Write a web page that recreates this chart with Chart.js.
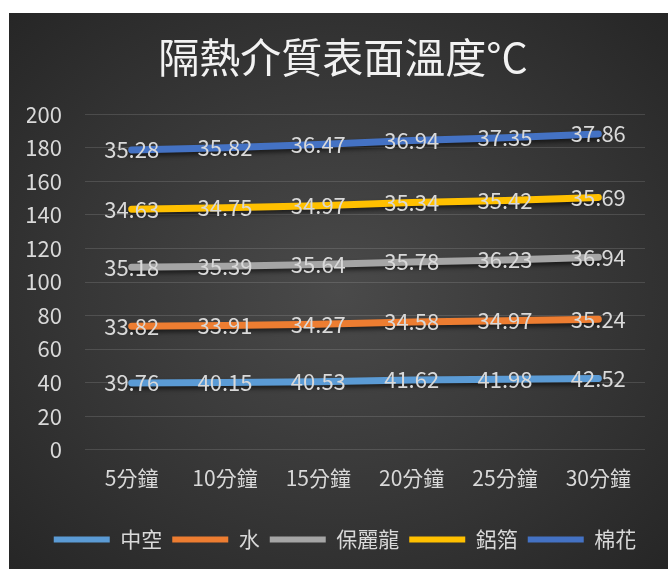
<!DOCTYPE html>
<html>
<head>
<meta charset="utf-8">
<script src="https://cdn.jsdelivr.net/npm/chart.js@4"></script>
<style>
  body { margin: 0; background: #fff; }
  #wrap {
    position: absolute; left: 9px; top: 13px; width: 659px; height: 556px;
    background: radial-gradient(ellipse at 50% 50%, #4a4a4a 0%, #3a3a3a 45%, #262626 100%);
  }
</style>
</head>
<body>
<div id="wrap"><canvas id="chart" width="659" height="556"></canvas></div>
<script>
var categories = ['5分鐘', '10分鐘', '15分鐘', '20分鐘', '25分鐘', '30分鐘'];
var seriesNames = ['中空', '水', '保麗龍', '鋁箔', '棉花'];
var hollow = [39.76, 40.15, 40.53, 41.62, 41.98, 42.52];
var water = [33.82, 33.91, 34.27, 34.58, 34.97, 35.24];
var styrofoam = [35.18, 35.39, 35.64, 35.78, 36.23, 36.94];
var foil = [34.63, 34.75, 34.97, 35.34, 35.42, 35.69];
var cotton = [35.28, 35.82, 36.47, 36.94, 37.35, 37.86];
var yTicks = [0, 20, 40, 60, 80, 100, 120, 140, 160, 180, 200];

var colors = ['#5B9BD5', '#ED7D31', '#A5A5A5', '#FFC000', '#4472C4'];
var allData = [hollow, water, styrofoam, foil, cotton];
var font = '"Noto Sans CJK TC", "Noto Sans", sans-serif';

var datasets = allData.map(function (d, i) {
    return {
        label: seriesNames[i],
        data: d,
        borderColor: colors[i],
        backgroundColor: colors[i],
        borderWidth: 7,
        borderCapStyle: 'round',
        pointRadius: 0,
        fill: false,
        tension: 0
    };
});

// shadows under lines, like Excel
var shadowPlugin = {
    id: 'shadow',
    beforeDatasetDraw: function (chart) {
        var ctx = chart.ctx;
        ctx.save();
        ctx.shadowColor = 'rgba(0,0,0,0.55)';
        ctx.shadowBlur = 4;
        ctx.shadowOffsetY = 3;
    },
    afterDatasetDraw: function (chart) {
        chart.ctx.restore();
    }
};

// nudge title and legend right a little (Excel centres them a bit off the canvas middle)
var nudgePlugin = {
    id: 'nudge',
    afterLayout: function (chart) {
        if (chart.titleBlock) { chart.titleBlock.left += 7; chart.titleBlock.right += 7; }
        if (chart.legend) { chart.legend.left += 9; chart.legend.right += 9; }
    }
};

// value labels centred on each point
var labelPlugin = {
    id: 'valueLabels',
    afterDatasetsDraw: function (chart) {
        var ctx = chart.ctx;
        ctx.save();
        ctx.font = '22px ' + font;
        ctx.fillStyle = '#d9d9d9';
        ctx.textAlign = 'center';
        ctx.textBaseline = 'middle';
        chart.data.datasets.forEach(function (ds, i) {
            chart.getDatasetMeta(i).data.forEach(function (pt, j) {
                ctx.fillText(ds.data[j].toFixed(2), pt.x, pt.y);
            });
        });
        ctx.restore();
    }
};

new Chart(document.getElementById('chart'), {
    type: 'line',
    data: { labels: categories, datasets: datasets },
    plugins: [shadowPlugin, labelPlugin, nudgePlugin],
    options: {
        responsive: false,
        animation: false,
        layout: { padding: { left: 18, right: 23, top: 0, bottom: 9 } },
        plugins: {
            title: {
                display: true,
                text: '隔熱介質表面溫度°C',
                color: '#f2f2f2',
                font: { family: font, size: 41, weight: 'normal' },
                padding: { top: 20, bottom: 32 }
            },
            legend: {
                position: 'bottom',
                labels: {
                    color: '#d9d9d9',
                    font: { family: font, size: 21 },
                    boxWidth: 56,
                    boxHeight: 6,
                    useBorderRadius: true,
                    borderRadius: 3,
                    padding: 10,
                    generateLabels: function (chart) {
                        return chart.data.datasets.map(function (ds, i) {
                            return {
                                text: ds.label,
                                fillStyle: ds.borderColor,
                                strokeStyle: ds.borderColor,
                                lineWidth: 0,
                                fontColor: '#d9d9d9',
                                datasetIndex: i
                            };
                        });
                    }
                }
            },
            tooltip: { enabled: false }
        },
        scales: {
            x: {
                offset: true,
                grid: { display: false, drawTicks: false },
                border: { display: false },
                ticks: { color: '#d9d9d9', font: { family: font, size: 21 }, padding: 16 },
                afterFit: function (axis) { axis.height += 12; }
            },
            y: {
                stacked: true,
                min: 0,
                max: 200,
                afterBuildTicks: function (axis) {
                    axis.ticks = yTicks.map(function (v) { return { value: v }; });
                },
                afterFit: function (axis) { axis.width = 58; },
                grid: { color: 'rgba(255,255,255,0.13)', drawTicks: false },
                border: { display: false },
                ticks: { color: '#d9d9d9', font: { family: font, size: 22 }, padding: 23 }
            }
        }
    }
});
</script>
</body>
</html>
